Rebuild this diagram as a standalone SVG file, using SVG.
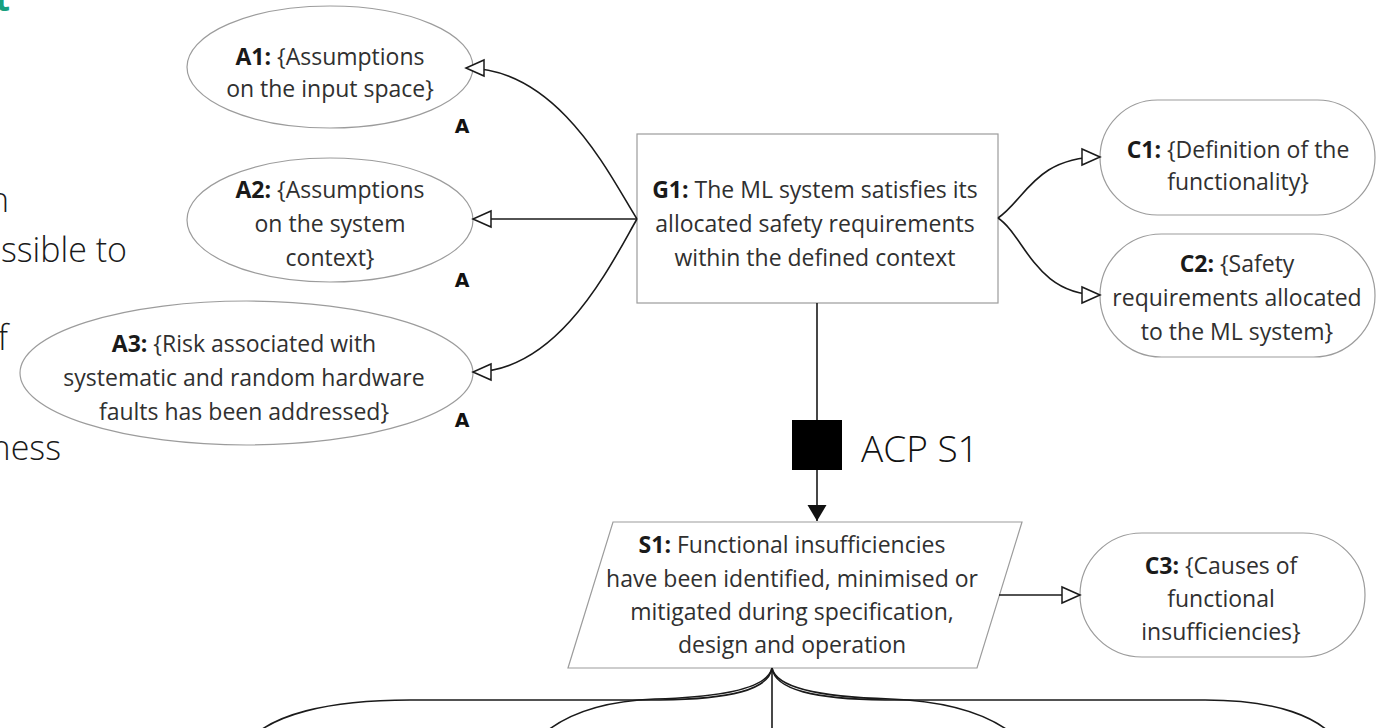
<svg xmlns="http://www.w3.org/2000/svg" width="1380" height="728" viewBox="0 0 1380 728">
  <defs>
    <style>
      .t { font-family: "Open Sans", "Noto Sans", "DejaVu Sans", sans-serif; font-size: 23px; fill: #303030; text-anchor: middle; }
      .b { font-weight: 700; fill: #1a1a1a; }
      .shape { fill: #ffffff; stroke: #9c9c9c; stroke-width: 1.2; }
      .conn { fill: none; stroke: #1a1a1a; stroke-width: 1.6; }
      .alabel { font-family: "DejaVu Sans", "Liberation Sans", sans-serif; font-weight: bold; font-size: 19px; fill: #111; text-anchor: middle; }
      .frag { font-family: "Open Sans", "Noto Sans", sans-serif; font-weight: 300; font-size: 34px; fill: #1a1a1a; text-anchor: end; }
      .acp { font-family: "Open Sans", "Noto Sans", sans-serif; font-weight: 300; font-size: 37px; fill: #111; }
    </style>
    <!-- hollow arrowhead used for context / assumption links -->
    <marker id="hollow" viewBox="-20 -10 22 20" markerWidth="22" markerHeight="20" refX="0" refY="0" orient="auto" markerUnits="userSpaceOnUse" overflow="visible">
      <path d="M0,0 L-18,-8 L-18,8 Z" fill="#ffffff" stroke="#1a1a1a" stroke-width="1.5"/>
    </marker>
    <!-- filled arrowhead used for support links -->
    <marker id="solid" viewBox="-17 -11 18 22" markerWidth="18" markerHeight="22" refX="0" refY="0" orient="auto" markerUnits="userSpaceOnUse" overflow="visible">
      <path d="M0,0 L-16,-9.5 L-16,9.5 Z" fill="#111111"/>
    </marker>
  </defs>

  <rect x="0" y="0" width="1380" height="728" fill="#ffffff"/>

  <!-- text running along the left margin -->
  <g id="margin-text">
    <text x="10" y="11" style="font-family: 'Open Sans', 'Noto Sans', sans-serif; font-weight: 700; font-size: 34px; fill: #17a07f; text-anchor: end;">t</text>
    <text class="frag" x="9" y="212">n</text>
    <text class="frag" x="127" y="262">ssible to</text>
    <text class="frag" x="8" y="350">f</text>
    <text class="frag" x="61" y="460">ness</text>
  </g>

  <!-- assumptions -->
  <g id="A1">
    <ellipse class="shape" cx="330" cy="67" rx="143" ry="61"/>
    <text class="t" x="330" y="65"><tspan class="b">A1:</tspan> {Assumptions</text>
    <text class="t" x="330" y="97">on the input space}</text>
    <text class="alabel" x="462" y="133">A</text>
  </g>
  <g id="A2">
    <ellipse class="shape" cx="330" cy="220" rx="143" ry="62"/>
    <text class="t" x="330" y="198"><tspan class="b">A2:</tspan> {Assumptions</text>
    <text class="t" x="330" y="232">on the system</text>
    <text class="t" x="330" y="266">context}</text>
    <text class="alabel" x="462" y="287">A</text>
  </g>
  <g id="A3">
    <ellipse class="shape" cx="246.5" cy="373" rx="226.5" ry="72"/>
    <text class="t" x="244" y="352"><tspan class="b">A3:</tspan> {Risk associated with</text>
    <text class="t" x="244" y="386">systematic and random hardware</text>
    <text class="t" x="244" y="420">faults has been addressed}</text>
    <text class="alabel" x="462" y="427">A</text>
  </g>

  <!-- top goal -->
  <g id="G1">
    <rect class="shape" x="637" y="134" width="361" height="169"/>
    <text class="t" x="815" y="198"><tspan class="b">G1:</tspan> The ML system satisfies its</text>
    <text class="t" x="815" y="232">allocated safety requirements</text>
    <text class="t" x="815" y="266">within the defined context</text>
  </g>

  <!-- contexts -->
  <g id="C1">
    <rect class="shape" x="1100" y="100" width="275" height="115" rx="57.5" ry="57.5"/>
    <text class="t" x="1238" y="158"><tspan class="b">C1:</tspan> {Definition of the</text>
    <text class="t" x="1238" y="190">functionality}</text>
  </g>
  <g id="C2">
    <rect class="shape" x="1100" y="234" width="275" height="123" rx="61.5" ry="61.5"/>
    <text class="t" x="1237" y="272"><tspan class="b">C2:</tspan> {Safety</text>
    <text class="t" x="1237" y="306">requirements allocated</text>
    <text class="t" x="1237" y="340">to the ML system}</text>
  </g>

  <!-- strategy -->
  <g id="S1">
    <polygon class="shape" points="613,522 1022,522 977,668 568,668"/>
    <text class="t" x="792" y="553"><tspan class="b">S1:</tspan> Functional insufficiencies</text>
    <text class="t" x="792" y="587">have been identified, minimised or</text>
    <text class="t" x="792" y="620">mitigated during specification,</text>
    <text class="t" x="792" y="653">design and operation</text>
  </g>

  <g id="C3">
    <rect class="shape" x="1080" y="533" width="285" height="124" rx="62" ry="62"/>
    <text class="t" x="1221" y="574"><tspan class="b">C3:</tspan> {Causes of</text>
    <text class="t" x="1221" y="607">functional</text>
    <text class="t" x="1221" y="640">insufficiencies}</text>
  </g>

  <!-- argument pattern marker on the G1 to S1 link -->
  <g id="ACP">
    <rect x="792" y="420" width="50" height="50" fill="#000000"/>
    <text class="acp" x="861" y="462">ACP S1</text>
  </g>

  <!-- links -->
  <g id="connectors">
    <path class="conn" d="M637,219 C612,180 560,68 466,68" marker-end="url(#hollow)"/>
    <path class="conn" d="M637,219 L473,219" marker-end="url(#hollow)"/>
    <path class="conn" d="M637,219 C612,262 560,372 473,372" marker-end="url(#hollow)"/>

    <path class="conn" d="M998,218 C1025,200 1035,157 1100,157" marker-end="url(#hollow)"/>
    <path class="conn" d="M998,218 C1025,236 1035,295 1100,295" marker-end="url(#hollow)"/>

    <path class="conn" d="M817,303 L817,420 M817,470 L817,521" marker-end="url(#solid)"/>

    <path class="conn" d="M999,595 L1080,595" marker-end="url(#hollow)"/>

    <!-- children of S1, continuing below the frame -->
    <path class="conn" d="M772,668 L772,740"/>
    <path class="conn" d="M772,668 C769,690 730,699 660,700 L410,700 C330,700 268,714 245,745"/>
    <path class="conn" d="M772,668 C768,688 725,697 655,699 C605,701 560,713 532,745"/>
    <path class="conn" d="M772,668 C776,688 820,697 890,699 C945,701 995,713 1025,745"/>
    <path class="conn" d="M772,668 C775,690 815,699 885,700 L1205,700 C1275,700 1322,716 1340,745"/>
  </g>
</svg>
